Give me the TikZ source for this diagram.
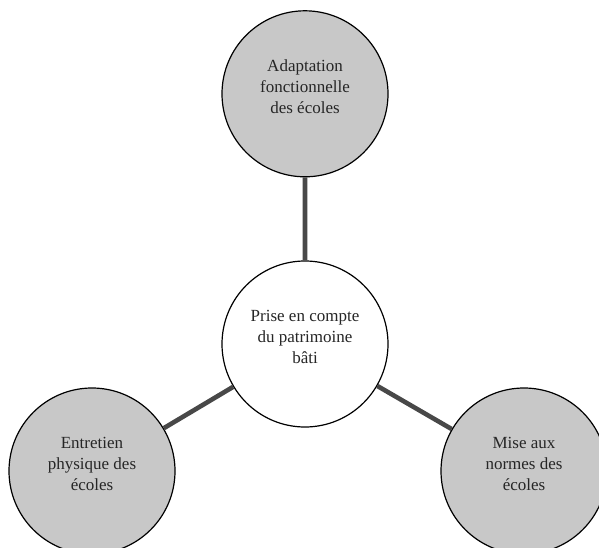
\documentclass[tikz,border=0pt]{standalone}
\usepackage{fontspec}
\setmainfont{Liberation Serif}
\usetikzlibrary{positioning}
\definecolor{leafgray}{RGB}{200,200,200}
\definecolor{linkgray}{RGB}{72,72,72}
\tikzset{
theme/.style={circle, draw=black, line width=1.2pt, minimum size=166pt, inner sep=0pt, align=center, text=black!85, font=\fontsize{17}{21}\selectfont, text depth=14pt}, % every circle
core/.style={theme, fill=white}, % the central circle
leaf/.style={theme, fill=leafgray}, % the three grey circles
link/.style={draw=linkgray, line width=4.6pt}, % the thick grey stems
}
\begin{document}
\begin{tikzpicture}[x=1pt, y=-1pt]
\clip (0,0) rectangle (599,548);
\fill[white] (0,0) rectangle (599,548);
\node[core] (patrimoine) at (305,344) {Prise en compte\\du patrimoine\\bâti};
\node[leaf, above=83pt of patrimoine] (adaptation) {Adaptation\\fonctionnelle\\des écoles};
\node[leaf] (entretien) at (92,471) {Entretien\\physique des\\écoles};
\node[leaf] (normes) at (524,471) {Mise aux\\normes des\\écoles};
\draw[link]
(patrimoine) -- (adaptation)
(patrimoine) -- (entretien)
(patrimoine) -- (normes)
;
\end{tikzpicture}
\end{document}
